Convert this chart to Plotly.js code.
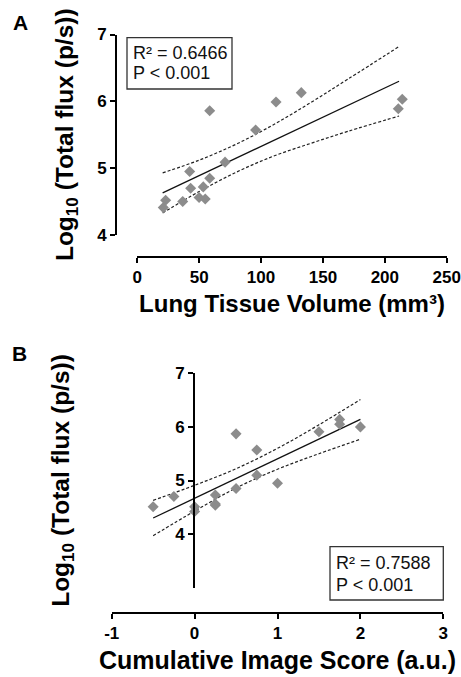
<!DOCTYPE html>
<html>
<head>
<meta charset="utf-8">
<script src="https://cdn.plot.ly/plotly-3.0.1.min.js"></script>
<style>html,body{margin:0;padding:0;background:#fff;}#chart{width:461px;height:677px;}</style>
</head>
<body>
<div id="chart"></div>
<script>
// Panel A: Lung tissue volume vs log10 total flux
const volA = [21.0, 22.9, 36.7, 42.3, 43.1, 49.9, 53.3, 54.9, 58.5, 58.5, 70.9, 95.6, 112.1, 132.5, 210.9, 214.1];
const fluxA = [4.41, 4.52, 4.50, 4.95, 4.70, 4.56, 4.72, 4.54, 4.85, 5.86, 5.09, 5.57, 5.99, 6.13, 5.89, 6.03];
const fitXA = [20.5, 211.5];
const fitYA = [4.63, 6.30];
const bandXA = [20.5, 50, 80, 110, 140, 170, 211.5];
const upperA = [4.93, 5.12, 5.36, 5.65, 5.98, 6.33, 6.82];
const lowerA = [4.33, 4.65, 4.94, 5.18, 5.37, 5.55, 5.78];
const xTicksA = [0, 50, 100, 150, 200, 250];
const yTicksA = [4, 5, 6, 7];

// Panel B: cumulative image score vs log10 total flux
const scoreB = [-0.5, -0.25, 0, 0, 0.25, 0.25, 0.25, 0.5, 0.5, 0.75, 0.75, 1.0, 1.5, 1.75, 1.75, 2.0];
const fluxB = [4.51, 4.70, 4.51, 4.42, 4.73, 4.54, 4.56, 5.87, 4.85, 5.57, 5.10, 4.95, 5.91, 6.14, 6.05, 6.00];
const fitXB = [-0.5, 2.0];
const fitYB = [4.30, 6.14];
const bandXB = [-0.5, 0, 0.5, 1, 1.5, 2];
const upperB = [4.63, 4.91, 5.22, 5.60, 6.04, 6.51];
const lowerB = [3.97, 4.43, 4.86, 5.21, 5.50, 5.77];
const xTicksB = [-1, 0, 1, 2, 3];
const xTickTextB = ['-1', '0', '1', '2', '3'];
const yTicksB = [4, 5, 6, 7];

const statsA = ['R² = 0.6466', 'P < 0.001'];
const statsB = ['R² = 0.7588', 'P < 0.001'];

const W = 461, H = 677;
const px = v => v / W;
const py = v => 1 - v / H;
const FONT = 'Liberation Sans, Arial, sans-serif';
const markerStyle = {symbol: 'diamond', size: 8.5, color: '#8c8c8c'};
const fitLine = {color: '#111', width: 1.3};
const dashLine = {color: '#222', width: 1.2, dash: '3px,2px', shape: 'spline'};

const traces = [
  {x: bandXA, y: upperA, mode: 'lines', line: dashLine, xaxis: 'x', yaxis: 'y', hoverinfo: 'skip'},
  {x: bandXA, y: lowerA, mode: 'lines', line: dashLine, xaxis: 'x', yaxis: 'y', hoverinfo: 'skip'},
  {x: fitXA, y: fitYA, mode: 'lines', line: fitLine, xaxis: 'x', yaxis: 'y'},
  {x: volA, y: fluxA, mode: 'markers', marker: markerStyle, xaxis: 'x', yaxis: 'y', cliponaxis: false},
  {x: bandXB, y: upperB, mode: 'lines', line: dashLine, xaxis: 'x2', yaxis: 'y2', hoverinfo: 'skip'},
  {x: bandXB, y: lowerB, mode: 'lines', line: dashLine, xaxis: 'x2', yaxis: 'y2', hoverinfo: 'skip'},
  {x: fitXB, y: fitYB, mode: 'lines', line: fitLine, xaxis: 'x2', yaxis: 'y2'},
  {x: scoreB, y: fluxB, mode: 'markers', marker: markerStyle, xaxis: 'x2', yaxis: 'y2', cliponaxis: false}
];

const axisBase = {
  showgrid: false, zeroline: false, showline: true, linecolor: '#000', linewidth: 2,
  ticks: 'outside', ticklen: 5, tickwidth: 2, tickcolor: '#000',
  tickfont: {family: FONT, size: 17, color: '#000', weight: 'bold'},
  fixedrange: true
};
const tf = s => ({family: FONT, size: s, color: '#000', weight: 'bold'});

const layout = {
  width: W, height: H,
  margin: {l: 0, r: 0, t: 0, b: 0},
  paper_bgcolor: '#fff', plot_bgcolor: 'rgba(0,0,0,0)',
  showlegend: false,
  font: {family: FONT, color: '#000'},
  xaxis: Object.assign({}, axisBase, {
    domain: [px(137.3), px(446.7)], range: [0, 250], anchor: 'free', position: py(256.7),
    tickvals: xTicksA,
    title: {text: 'Lung Tissue Volume (mm³)', font: tf(24), standoff: 8}
  }),
  yaxis: Object.assign({}, axisBase, {
    domain: [py(235), py(34.5)], range: [4, 7], anchor: 'free', position: px(116),
    tickvals: yTicksA,
    title: {text: 'Log<sub>10</sub> (Total flux (p/s))', font: tf(24.5), standoff: 16}
  }),
  xaxis2: Object.assign({}, axisBase, {
    domain: [px(111.7), px(443.3)], range: [-1, 3], anchor: 'free', position: py(612.7),
    tickvals: xTicksB, ticktext: xTickTextB,
    title: {text: 'Cumulative Image Score (a.u.)', font: tf(25), standoff: 8}
  }),
  yaxis2: Object.assign({}, axisBase, {
    domain: [py(587.7), py(373.3)], range: [3, 7], anchor: 'free', position: px(194),
    tickvals: yTicksB,
    title: {text: 'Log<sub>10</sub> (Total flux (p/s))', font: tf(24.5), standoff: 98}
  }),
  shapes: [
    {type: 'rect', xref: 'paper', yref: 'paper', x0: px(127), x1: px(232), y0: py(89), y1: py(37.7),
     line: {color: '#333', width: 1.3}, fillcolor: 'rgba(0,0,0,0)'},
    {type: 'rect', xref: 'paper', yref: 'paper', x0: px(330), x1: px(443.3), y0: py(600), y1: py(546.7),
     line: {color: '#333', width: 1.3}, fillcolor: 'rgba(0,0,0,0)'}
  ],
  annotations: [
    {text: statsA[0], xref: 'paper', yref: 'paper', x: px(131), y: py(52.7), xanchor: 'left', yanchor: 'middle', showarrow: false, font: {family: FONT, size: 18, color: '#111'}},
    {text: statsA[1], xref: 'paper', yref: 'paper', x: px(131), y: py(73.3), xanchor: 'left', yanchor: 'middle', showarrow: false, font: {family: FONT, size: 18, color: '#111'}},
    {text: statsB[0], xref: 'paper', yref: 'paper', x: px(334), y: py(562.7), xanchor: 'left', yanchor: 'middle', showarrow: false, font: {family: FONT, size: 18, color: '#111'}},
    {text: statsB[1], xref: 'paper', yref: 'paper', x: px(334), y: py(585), xanchor: 'left', yanchor: 'middle', showarrow: false, font: {family: FONT, size: 18, color: '#111'}},
    {text: 'A', xref: 'paper', yref: 'paper', x: px(20), y: py(22.5), xanchor: 'center', yanchor: 'middle', showarrow: false, font: {family: FONT, size: 21, color: '#000', weight: 'bold'}},
    {text: 'B', xref: 'paper', yref: 'paper', x: px(19), y: py(353.5), xanchor: 'center', yanchor: 'middle', showarrow: false, font: {family: FONT, size: 21, color: '#000', weight: 'bold'}}
  ]
};

Plotly.newPlot('chart', traces, layout, {staticPlot: true, displayModeBar: false});
</script>
</body>
</html>
